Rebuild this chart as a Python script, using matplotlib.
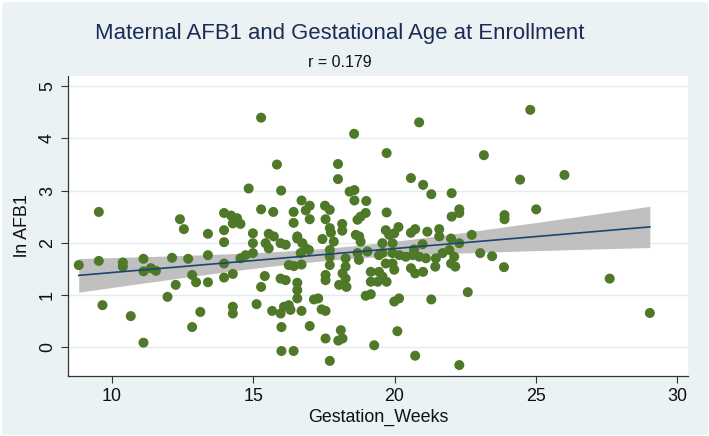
import numpy as np
import matplotlib
matplotlib.use("Agg")
import matplotlib.pyplot as plt
from matplotlib.patches import Rectangle

weeks = [
    9.54, 8.83, 9.54, 9.67, 10.39, 10.39, 10.67, 11.12, 11.12, 11.12, 11.38, 11.56,
    11.97, 12.13, 12.26, 12.41, 12.55, 12.70, 12.84, 12.84, 12.98, 13.13, 13.40, 13.40,
    13.40, 13.97, 13.97, 13.97, 13.97, 13.97, 14.28, 14.28, 14.28, 14.28, 14.43, 14.55,
    15.28, 18.57, 19.72, 15.84, 18.00, 18.00, 14.84, 15.99, 18.41, 18.58, 18.58, 19.00,
    16.71, 17.00, 16.86, 17.00, 17.54, 17.71, 17.56, 15.28, 15.71, 16.43, 16.43, 19.72,
    18.98, 18.80, 18.69, 18.15, 18.15, 17.71, 17.75, 14.55, 14.22, 14.99, 15.55, 15.73,
    16.56, 17.45, 18.63, 18.75, 19.69, 19.81,
    14.99, 14.99, 14.73, 15.44, 15.55, 15.97, 16.15, 15.41, 15.28, 15.12, 15.97, 16.15,
    16.26, 16.44, 16.71, 16.56, 16.74, 16.86, 16.68, 16.97, 16.56, 16.56, 16.56, 15.67,
    15.97, 16.09, 16.26, 16.32, 16.71, 16.00, 16.00, 16.43, 17.00, 17.15, 17.30, 17.42,
    17.56, 17.56, 17.71, 17.85, 17.71, 17.71, 17.71, 17.56, 17.56, 18.27, 18.27, 18.16,
    18.27, 18.04, 18.30, 18.10, 18.16, 18.01, 18.80, 18.69, 18.74, 19.04, 19.16, 19.45,
    19.16, 19.40, 19.72, 19.57, 18.98, 19.16, 19.28, 19.57, 19.69, 19.93, 19.45, 19.57,
    19.93, 19.93, 19.99, 20.10,
    24.80, 20.87, 23.16, 20.58, 21.01, 21.30, 22.02, 24.44, 22.29, 22.29, 22.02, 23.89,
    23.89, 25.01, 20.14, 19.99, 20.58, 20.73, 21.16, 21.58, 21.58, 22.00, 22.73,
    22.29, 20.99, 20.69, 20.17, 20.40, 20.64, 20.87, 21.11, 21.46, 21.70, 21.94, 22.11,
    19.99, 20.58, 20.73, 21.01, 21.44, 22.00, 22.15, 23.03, 23.45, 23.87, 20.16, 21.30,
    22.59, 20.73, 22.29,
    26.01, 27.61, 29.03,
]
ln_afb1 = [
    2.59, 1.57, 1.65, 0.80, 1.62, 1.54, 0.59, 1.69, 1.45, 0.08, 1.51, 1.46,
    0.96, 1.71, 1.19, 2.45, 2.26, 1.69, 1.38, 0.38, 1.24, 0.67, 2.17, 1.76,
    1.24, 2.57, 2.24, 2.01, 1.60, 1.33, 1.40, 0.77, 0.64, 2.37, 2.47, 1.70,
    4.40, 4.09, 3.72, 3.50, 3.51, 3.22, 3.04, 3.00, 2.98, 3.01, 2.81, 2.80,
    2.81, 2.71, 2.62, 2.45, 2.71, 2.63, 2.45, 2.64, 2.59, 2.59, 2.38, 2.58,
    2.57, 2.50, 2.44, 2.36, 2.23, 2.28, 2.19, 2.36, 2.52, 2.18, 2.17, 2.12,
    2.12, 2.07, 2.15, 2.12, 2.24, 2.15,
    1.99, 1.80, 1.76, 1.99, 1.89, 1.99, 1.96, 1.36, 1.15, 0.82, 1.31, 1.28,
    1.57, 1.55, 1.58, 2.08, 1.99, 1.89, 1.80, 1.86, 1.23, 1.09, 0.93, 0.69,
    0.64, 0.77, 0.80, 0.71, 0.69, 0.38, -0.08, -0.08, 0.40, 0.91, 0.93, 0.72,
    0.69, 0.16, -0.27, 2.02, 1.86, 1.73, 1.57, 1.38, 1.28, 1.70, 1.54, 1.41,
    1.31, 1.19, 1.15, 0.32, 0.16, 0.12, 2.02, 1.80, 1.67, 1.83, 1.44, 1.44,
    1.25, 1.25, 1.25, 1.35, 0.98, 1.01, 0.03, 1.99, 1.60, 1.60, 1.76, 1.80,
    1.99, 1.80, 0.87, 0.30,
    4.55, 4.31, 3.68, 3.24, 3.11, 2.93, 2.95, 3.21, 2.64, 2.57, 2.50, 2.53,
    2.45, 2.64, 2.30, 2.18, 2.19, 2.26, 2.21, 2.26, 2.12, 2.08, 2.15,
    1.99, 1.97, 1.87, 1.76, 1.73, 1.76, 1.73, 1.70, 1.70, 1.80, 1.86, 1.73,
    1.48, 1.51, 1.41, 1.44, 1.54, 1.60, 1.54, 1.80, 1.74, 1.53, 0.93, 0.91,
    1.05, -0.17, -0.35,
    3.30, 1.31, 0.65,
]
x_ticks = [10, 15, 20, 25, 30]
y_ticks = [0, 1, 2, 3, 4, 5]
title = "Maternal AFB1 and Gestational Age at Enrollment"
subtitle = "r = 0.179"

x = np.array(weeks)
y = np.array(ln_afb1)

# linear fit with 95% CI of the mean prediction (Stata lfitci)
n = len(x)
b1, b0 = np.polyfit(x, y, 1)
resid = y - (b0 + b1 * x)
s = np.sqrt(np.sum(resid ** 2) / (n - 2))
xm = x.mean()
sxx = np.sum((x - xm) ** 2)
xs = np.linspace(x.min(), x.max(), 200)
fit = b0 + b1 * xs
se = s * np.sqrt(1.0 / n + (xs - xm) ** 2 / sxx)
tcrit = 1.972
lo, hi = fit - tcrit * se, fit + tcrit * se

plt.rcParams['font.family'] = ['Liberation Sans', 'DejaVu Sans']
bg = '#EAF2F3'
fig = plt.figure(figsize=(7.09, 4.36), dpi=100, facecolor=bg)
fig.patches.append(Rectangle((0, 0), 1, 1, transform=fig.transFigure, fill=False,
                             edgecolor='white', lw=2.5, zorder=10))
ax = fig.add_axes([0.0955, 0.1376, 0.9708 - 0.0955, 0.8257 - 0.1376])
ax.set_facecolor('white')

for yt in y_ticks:
    ax.axhline(yt, color='#E4ECEE', lw=1.0, zorder=0)

ax.fill_between(xs, lo, hi, color='#C0C0C0', lw=0, zorder=1)
ax.scatter(x, y, s=52, color='#4F7828', edgecolors='none', zorder=2)
ax.plot(xs, fit, color='#1A476F', lw=1.2, zorder=3)

ax.set_xlim(8.44, 30.39)
ax.set_ylim(-0.56, 5.2)
ax.set_xticks(x_ticks)
ax.set_yticks(y_ticks)
ax.tick_params(axis='both', direction='out', length=5, width=0.8, color='#333333',
               labelsize=12.9, labelcolor='#111111')
for lab in ax.get_yticklabels():
    lab.set_rotation(90)
    lab.set_va('center')
for side in ['top', 'right']:
    ax.spines[side].set_visible(False)
for side in ['left', 'bottom']:
    ax.spines[side].set_color('#333333')
    ax.spines[side].set_linewidth(0.9)

ax.set_xlabel('Gestation_Weeks', fontsize=12.9, color='#111111', labelpad=3)
ax.set_ylabel('ln AFB1', fontsize=12.9, color='#111111', labelpad=6)

fig.text(0.4795, 0.924, title, ha='center', va='center', fontsize=15.9, color='#1C2B55')
fig.text(0.4795, 0.857, subtitle, ha='center', va='center', fontsize=11.5, color='#111111')

fig.savefig('out.png', dpi=100, facecolor=bg)
